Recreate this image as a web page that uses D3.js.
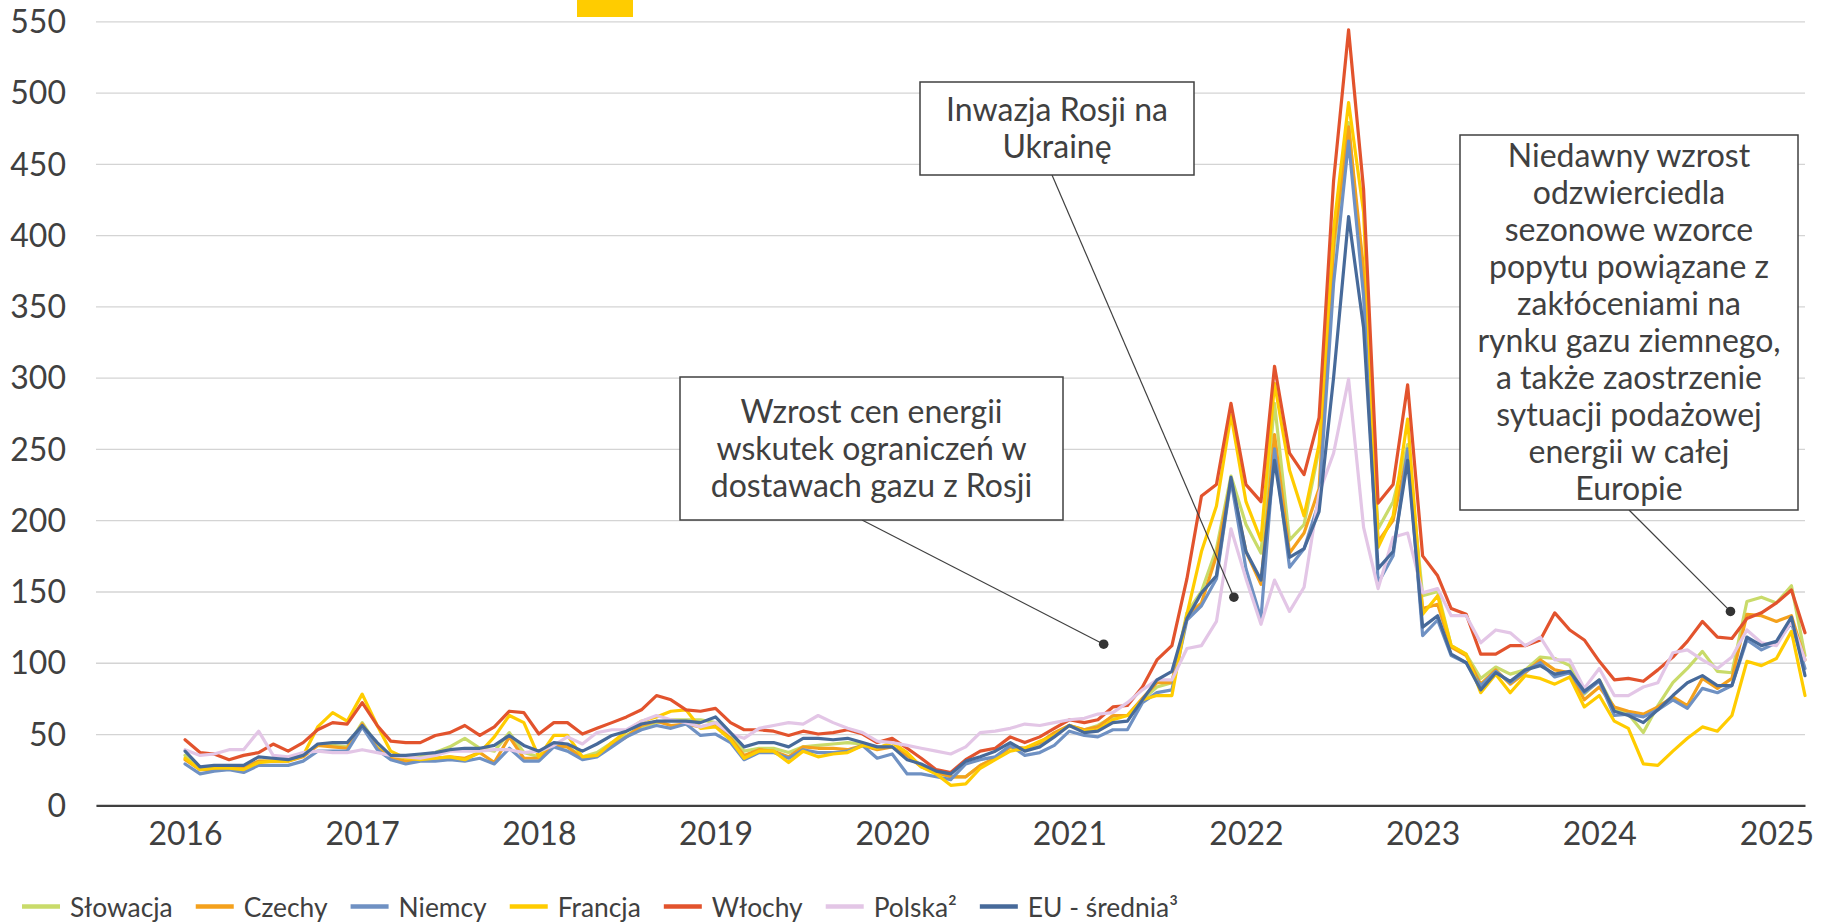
<!DOCTYPE html>
<html>
<head>
<meta charset="utf-8">
<script src="https://cdn.jsdelivr.net/npm/d3@7"></script>
<style>
    body { margin: 0; background: #fff; }
    text { font-family: Lato, sans-serif; fill: #404040; }
</style>
</head>
<body>
<script>
const WIDTH = 1822
const HEIGHT = 922

const PLOT = {
    left: 96,
    right: 1805,
    top: 21.3,
    bottom: 805.3
}

// monthly values, Jan 2016 - Mar 2025
const months = d3.timeMonth.range(new Date(2016, 0, 1), new Date(2025, 3, 1))
const years = [2016, 2017, 2018, 2019, 2020, 2021, 2022, 2023, 2024, 2025]
const yTicks = [0, 50, 100, 150, 200, 250, 300, 350, 400, 450, 500, 550]

const slowacja = [
    35, 26, 26, 26, 26, 31, 31, 32, 35, 42, 42, 41, 58, 42, 34, 33, 34, 37, 41, 47, 40, 38, 51, 37,
    34, 42, 41, 34, 37, 44, 49, 55, 58, 60, 60, 60, 58, 50, 38, 40, 40, 37, 41, 42, 43, 44, 43, 41,
    41, 35, 28, 23, 20, 20, 28, 33, 41, 40, 43, 50, 56, 53, 56, 62, 63, 74, 83, 86,
    135, 150, 180, 231, 197, 177, 282, 186, 197, 250, 388, 479, 363, 194, 213, 253, 147, 150, 112, 106, 89, 97, 92,
    95, 104, 103, 98, 78, 88, 68, 64, 51, 70, 86, 96, 108, 94, 93, 143, 146, 142, 154, 105
]
const czechy = [
    32, 25, 25, 26, 26, 31, 31, 31, 34, 42, 41, 40, 57, 40, 33, 31, 32, 33, 34, 33, 37, 30, 48, 33,
    33, 42, 41, 33, 35, 42, 48, 56, 59, 56, 57, 55, 57, 47, 35, 39, 38, 34, 41, 40, 40, 39, 42, 39,
    41, 35, 27, 23, 20, 20, 28, 33, 41, 40, 44, 51, 56, 53, 55, 63, 63, 75, 86, 86,
    133, 142, 175, 228, 178, 155, 260, 177, 191, 222, 394, 476, 376, 185, 200, 247, 138, 141, 111, 105, 85, 95, 85,
    93, 102, 95, 93, 74, 83, 69, 66, 64, 69, 76, 70, 89, 82, 89, 134, 133, 129, 133, 102
]
const niemcy = [
    29, 22, 24, 25, 23, 28, 28, 28, 31, 38, 38, 38, 55, 39, 32, 29, 31, 31, 32, 31, 33, 29, 40, 31,
    31, 41, 38, 32, 34, 41, 48, 53, 56, 54, 57, 49, 50, 44, 32, 37, 37, 33, 39, 37, 37, 38, 42, 33,
    36, 22, 22, 20, 18, 29, 32, 34, 42, 35, 37, 42, 52, 49, 48, 53, 53, 72, 79, 81,
    130, 140, 159, 228, 166, 131, 250, 167, 180, 213, 366, 466, 357, 156, 175, 250, 119, 130, 105, 100, 84, 94, 86,
    94, 100, 90, 93, 79, 87, 63, 64, 62, 67, 74, 68, 82, 79, 84, 116, 109, 114, 128, 96
]
const francja = [
    33, 25, 26, 26, 25, 30, 31, 31, 35, 55, 65, 59, 78, 56, 38, 33, 32, 33, 34, 32, 37, 48, 63, 58,
    34, 49, 49, 34, 35, 44, 52, 59, 62, 66, 67, 54, 55, 46, 33, 38, 38, 30, 38, 34, 36, 37, 42, 40,
    44, 37, 27, 22, 14, 15, 26, 32, 38, 40, 45, 49, 56, 52, 53, 60, 63, 74, 77, 77,
    134, 178, 210, 274, 213, 186, 296, 235, 203, 253, 404, 493, 416, 181, 203, 271, 134, 147, 112, 106, 79, 92, 79,
    91, 89, 85, 90, 69, 77, 59, 54, 29, 28, 38, 47, 55, 52, 63, 101, 98, 103, 122, 77
]
const wlochy = [
    46, 37, 36, 32, 35, 37, 43, 38, 44, 53, 58, 57, 72, 56, 45, 44, 44, 49, 51, 56, 49, 55, 66, 65,
    50, 58, 58, 50, 54, 58, 62, 67, 77, 74, 67, 66, 68, 58, 53, 53, 52, 49, 52, 50, 51, 53, 50, 44,
    47, 40, 33, 25, 23, 32, 38, 40, 48, 44, 48, 54, 60, 58, 60, 69, 70, 83, 102, 112,
    159, 217, 225, 282, 225, 213, 308, 247, 232, 272, 438, 544, 432, 212, 225, 295, 175, 161, 138, 134, 106, 106, 112,
    112, 116, 135, 123, 116, 101, 88, 89, 87, 95, 104, 115, 129, 118, 117, 131, 135, 142, 151, 121
]
const polska = [
    39, 35, 36, 39, 39, 52, 35, 34, 37, 38, 37, 37, 39, 37, 35, 34, 33, 35, 38, 38, 38, 39, 39, 37,
    38, 42, 48, 43, 51, 53, 53, 59, 63, 60, 58, 55, 58, 50, 47, 54, 56, 58, 57, 63, 58, 54, 51, 45,
    44, 42, 40, 38, 36, 41, 51, 52, 54, 57, 56, 58, 60, 61, 64, 65, 72, 81, 88, 88,
    110, 112, 129, 194, 159, 127, 158, 136, 153, 219, 247, 299, 195, 152, 188, 191, 149, 152, 133, 133, 114, 123, 121,
    112, 118, 102, 102, 82, 96, 77, 77, 83, 86, 107, 109, 102, 96, 104, 123, 114, 112, 129, 102
]
const eu = [
    38, 27, 28, 28, 28, 34, 33, 32, 35, 43, 44, 44, 56, 44, 35, 35, 36, 37, 39, 40, 40, 42, 49, 42,
    38, 44, 43, 38, 43, 49, 52, 57, 59, 59, 59, 58, 62, 51, 41, 44, 44, 41, 47, 47, 46, 47, 44, 41,
    41, 32, 29, 24, 22, 31, 34, 38, 44, 38, 41, 48, 56, 51, 52, 58, 59, 74, 88, 94,
    131, 149, 161, 230, 178, 158, 242, 174, 180, 206, 300, 413, 335, 166, 178, 242, 125, 133, 106, 100, 81, 93, 87,
    95, 98, 92, 94, 80, 88, 66, 63, 58, 67, 77, 86, 91, 84, 84, 118, 112, 115, 132, 91
]

const names = ["Słowacja", "Czechy", "Niemcy", "Francja", "Włochy", "Polska²", "EU - średnia³"]
const colours = ["#C9DB6A", "#F4A11C", "#6F91C3", "#FFCC00", "#E2532D", "#E3C6E6", "#476A9A"]
const series = [slowacja, czechy, niemcy, francja, wlochy, polska, eu].map((values, i) => ({
    name: names[i],
    colour: colours[i],
    values: values
}))

const notes = [
    {
        lines: ["Wzrost cen energii", "wskutek ograniczeń w", "dostawach gazu z Rosji"],
        box: [680, 377, 1063, 520],
        from: [862, 520],
        date: new Date(2021, 2, 13), value: 113
    },
    {
        lines: ["Inwazja Rosji na", "Ukrainę"],
        box: [920, 82, 1194, 175],
        from: [1052, 175],
        date: new Date(2021, 11, 7), value: 146
    },
    {
        lines: ["Niedawny wzrost", "odzwierciedla", "sezonowe wzorce", "popytu powiązane z",
            "zakłóceniami na", "rynku gazu ziemnego,", "a także zaostrzenie", "sytuacji podażowej",
            "energii w całej", "Europie"],
        box: [1460, 135, 1798, 510],
        from: [1629, 510],
        date: new Date(2024, 8, 28), value: 136
    }
]

const svg = d3
    .select("body")
    .append("svg")
    .attr("width", WIDTH)
    .attr("height", HEIGHT)

const x = d3
    .scaleTime()
    .domain([new Date(2015, 6, 1), new Date(2025, 2, 1)])
    .range([PLOT.left, PLOT.right])

const y = d3
    .scaleLinear()
    .domain([0, 550])
    .range([PLOT.bottom, PLOT.top])

// yellow marker at the top
svg.append("rect")
    .attr("x", 577)
    .attr("y", 0)
    .attr("width", 56)
    .attr("height", 17)
    .style("fill", "#FFCC00")

// gridlines + y labels
const yAxis = svg
    .append("g")
    .attr("transform", `translate(${PLOT.left},0)`)
    .call(d3.axisLeft(y)
        .tickValues(yTicks)
        .tickSize(-(PLOT.right - PLOT.left))
        .tickPadding(30))

yAxis.select(".domain").remove()
yAxis.selectAll(".tick line")
    .attr("stroke", "#d4d4d4")
    .attr("stroke-width", 1.3)
yAxis.selectAll(".tick text")
    .attr("font-size", 32)
    .attr("font-family", "Lato")
    .attr("fill", "#404040")
    .attr("dy", "0.35em")

// x axis
const xAxis = svg
    .append("g")
    .attr("transform", `translate(0,${PLOT.bottom})`)
    .call(d3.axisBottom(x)
        .tickValues(years.map(yr => new Date(yr, 0, 1)))
        .tickFormat(d3.timeFormat("%Y"))
        .tickSize(0)
        .tickPadding(17))

xAxis.select(".domain")
    .attr("stroke", "#404040")
    .attr("stroke-width", 2.2)
xAxis.selectAll(".tick text")
    .attr("font-size", 32)
    .attr("font-family", "Lato")
    .attr("fill", "#404040")

// series
const line = d3
    .line()
    .x((_, i) => x(months[i]))
    .y(d => y(d))

svg.selectAll(".series")
    .data(series)
    .enter()
    .append("path")
    .attr("class", "series")
    .attr("d", d => line(d.values))
    .attr("fill", "none")
    .attr("stroke", d => d.colour)
    .attr("stroke-width", 3.2)
    .attr("stroke-linejoin", "round")
    .attr("stroke-linecap", "round")

// annotations
notes.forEach(n => {
    const g = svg.append("g")
    const [x0, y0, x1, y1] = n.box
    const cx = (x0 + x1) / 2

    g.append("line")
        .attr("x1", n.from[0])
        .attr("y1", n.from[1])
        .attr("x2", x(n.date))
        .attr("y2", y(n.value))
        .attr("stroke", "#404040")
        .attr("stroke-width", 1.2)

    g.append("circle")
        .attr("cx", x(n.date))
        .attr("cy", y(n.value))
        .attr("r", 4.8)
        .attr("fill", "#333")

    g.append("rect")
        .attr("x", x0)
        .attr("y", y0)
        .attr("width", x1 - x0)
        .attr("height", y1 - y0)
        .attr("fill", "white")
        .attr("stroke", "#404040")
        .attr("stroke-width", 1.5)

    const firstBase = (y0 + y1) / 2 - (n.lines.length - 1) * 37 / 2 + 11
    g.append("text")
        .attr("text-anchor", "middle")
        .attr("font-size", 32)
        .selectAll("tspan")
        .data(n.lines)
        .enter()
        .append("tspan")
        .attr("x", cx)
        .attr("y", (_, i) => firstBase + i * 37)
        .text(d => d)
})

// legend
const legend = svg.append("g")
let lx = 22
series.forEach(s => {
    legend.append("line")
        .attr("x1", lx)
        .attr("x2", lx + 38)
        .attr("y1", 906.5)
        .attr("y2", 906.5)
        .attr("stroke", s.colour)
        .attr("stroke-width", 4.5)

    const t = legend.append("text")
        .attr("x", lx + 48)
        .attr("y", 917)
        .attr("font-size", 26.4)
        .text(s.name)

    lx += 48 + t.node().getComputedTextLength() + 23
})
</script>
</body>
</html>
